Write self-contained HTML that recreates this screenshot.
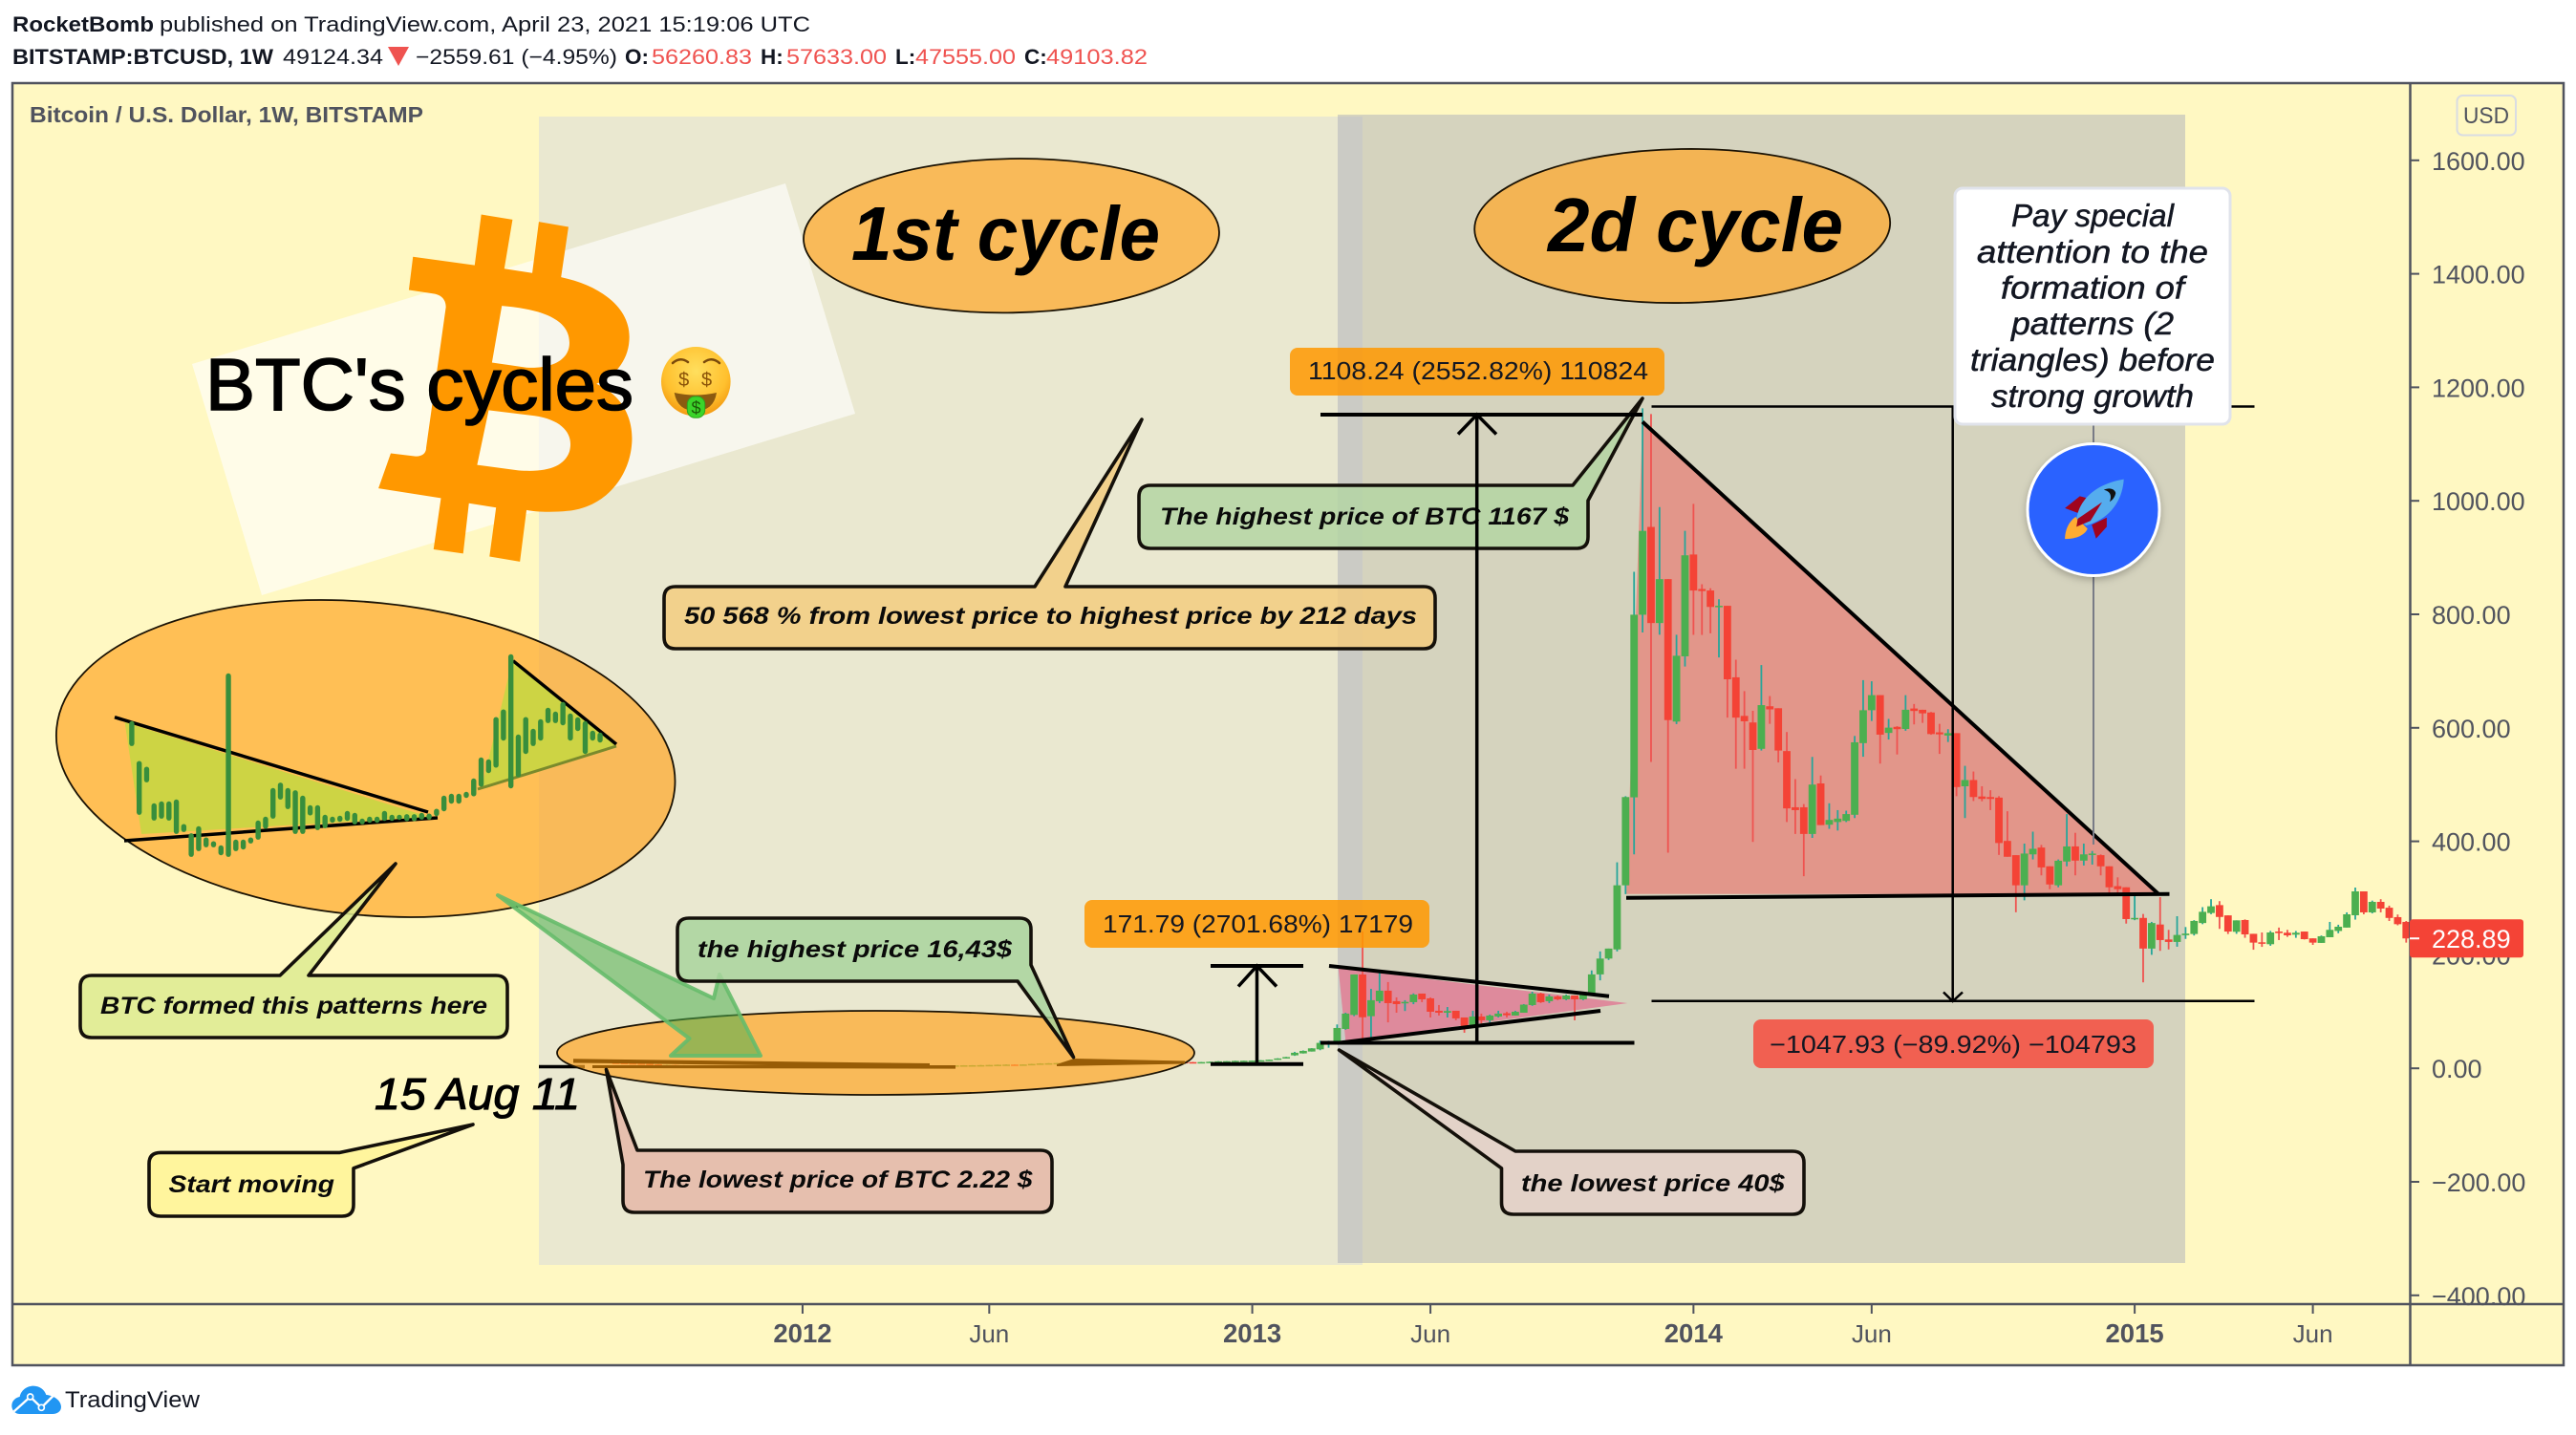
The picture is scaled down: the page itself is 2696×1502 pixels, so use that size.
<!DOCTYPE html>
<html lang="en">
<head>
<meta charset="utf-8">
<title>BTC's cycles</title>
<style>
html,body{margin:0;padding:0;background:#fff;width:2696px;height:1502px;overflow:hidden}
svg{display:block;font-family:"Liberation Sans",sans-serif}
.cb{font-weight:bold;font-style:italic;font-size:25px;fill:#0a0a0a}
.hd{font-size:22.5px;fill:#131722}
.red{fill:#EF5350}
.ml{font-size:26px;fill:#131722}
.pay{font-size:33px;font-style:italic;fill:#131722;stroke:#131722;stroke-width:.5px}
</style>
</head>
<body>
<svg id="chart" xmlns="http://www.w3.org/2000/svg" width="2696" height="1502" viewBox="0 0 2696 1502">
<defs>
<clipPath id="pane"><rect x="13" y="87" width="2509" height="1278"/></clipPath>
<filter id="sh" x="-20%" y="-20%" width="140%" height="140%"><feDropShadow dx="0" dy="3" stdDeviation="4" flood-color="#000" flood-opacity=".25"/></filter>
<radialGradient id="faceGrad" cx="50%" cy="35%" r="65%"><stop offset="0" stop-color="#FFDF5E"/><stop offset=".7" stop-color="#FFC02E"/><stop offset="1" stop-color="#F39A12"/></radialGradient>
</defs>

<g>
<text class="hd" x="13" y="33" font-weight="bold" textLength="148" lengthAdjust="spacingAndGlyphs">RocketBomb</text>
<text class="hd" x="167" y="33" textLength="681" lengthAdjust="spacingAndGlyphs">published on TradingView.com, April 23, 2021 15:19:06 UTC</text>
<text class="hd" x="13" y="67" font-weight="bold" textLength="273" lengthAdjust="spacingAndGlyphs">BITSTAMP:BTCUSD, 1W</text>
<text class="hd" x="296" y="67" textLength="105" lengthAdjust="spacingAndGlyphs">49124.34</text>
<polygon points="406,49 428,49 417,69" fill="#EF5350"/>
<text class="hd" x="435" y="67" textLength="211" lengthAdjust="spacingAndGlyphs">−2559.61 (−4.95%)</text>
<text class="hd" x="654" y="67" font-weight="bold">O:</text>
<text class="hd red" x="682" y="67" textLength="105" lengthAdjust="spacingAndGlyphs">56260.83</text>
<text class="hd" x="796" y="67" font-weight="bold">H:</text>
<text class="hd red" x="823" y="67" textLength="105" lengthAdjust="spacingAndGlyphs">57633.00</text>
<text class="hd" x="937" y="67" font-weight="bold">L:</text>
<text class="hd red" x="958" y="67" textLength="105" lengthAdjust="spacingAndGlyphs">47555.00</text>
<text class="hd" x="1072" y="67" font-weight="bold">C:</text>
<text class="hd red" x="1095" y="67" textLength="106" lengthAdjust="spacingAndGlyphs">49103.82</text>
</g>

<rect x="13" y="87" width="2670" height="1342" fill="#FFF8C2"/>

<g clip-path="url(#pane)">
<rect x="564" y="122" width="862" height="1202" fill="#EAE8D0"/>
<rect x="1400" y="120" width="887" height="1202" fill="#AFB1BA" fill-opacity=".524"/>

<polygon points="822,192 895,433 274,623 201,381" fill="#fff" fill-opacity=".62"/>
<path transform="scale(.861,.4464)" fill="#FF9800" fill-rule="evenodd" d="M502,602 L577,622 L585,503 L623,515 L613,630 L647,640 L655,520 L691,532 L682,650 C730,670 765,720 765,790 C765,840 750,880 725,900 C760,930 770,990 768,1040 C765,1120 735,1190 690,1198 C670,1202 650,1200 640,1196 L632,1317 L595,1305 L603,1190 L570,1180 L563,1298 L527,1288 L536,1168 L460,1145 L475,1063 L505,1070 C515,1070 518,1060 518,1050 L542,720 C542,700 535,690 525,688 L497,680 Z M610,717 C660,725 695,750 692,810 C690,845 670,865 640,862 L598,850 Z M594,962 L650,975 C685,985 698,1020 692,1060 C685,1095 665,1108 630,1103 L580,1090 Z"/>
<text x="215" y="429" font-size="77" fill="#000" stroke="#000" stroke-width="1.6" textLength="448" lengthAdjust="spacingAndGlyphs">BTC's cycles</text>

<g>
<circle cx="728.3" cy="399.3" r="36.3" fill="url(#faceGrad)"/>
<path d="M704,380 q8,-7 16,-1 M737,379 q8,-6 16,1" fill="none" stroke="#7a4a0c" stroke-width="2.5" stroke-linecap="round"/>
<text x="715.7" y="404" font-size="20" text-anchor="middle" fill="#8a5208">$</text>
<text x="739.5" y="404" font-size="20" text-anchor="middle" fill="#8a5208">$</text>
<path d="M705.7,411 q22,5 44.3,0 q-3,19 -22,19 q-19,0 -22.3,-19z" fill="#8B5A10"/>
<rect x="719.3" y="415" width="18.4" height="22.3" rx="8" fill="#3BD42A" stroke="#2FA51E" stroke-width="1"/>
<text x="728.5" y="433" font-size="18" text-anchor="middle" fill="#1c5a08">$</text>
</g>

<text x="31" y="128" font-size="23" font-weight="bold" fill="#50535E" textLength="412" lengthAdjust="spacingAndGlyphs">Bitcoin / U.S. Dollar, 1W, BITSTAMP</text>

<ellipse cx="1058.5" cy="246.7" rx="217.5" ry="80.6" transform="rotate(-1 1058.5 246.7)" fill="#FFA726" fill-opacity=".7" stroke="#1a1204" stroke-width="1.8"/>
<text x="891" y="272" font-size="80" font-weight="bold" font-style="italic" fill="#000" textLength="323" lengthAdjust="spacingAndGlyphs">1st cycle</text>
<ellipse cx="1760.7" cy="236.5" rx="217.5" ry="80.5" transform="rotate(-1 1760.7 236.5)" fill="#FFA726" fill-opacity=".7" stroke="#1a1204" stroke-width="1.8"/>
<text x="1620" y="263" font-size="80" font-weight="bold" font-style="italic" fill="#000" textLength="309" lengthAdjust="spacingAndGlyphs">2d cycle</text>

<polygon points="1719,441.5 2259,935.7 1702,935.7" fill="#E2968A"/>
<polygon points="1400.7,1013.3 1703.3,1050 1408.3,1090" fill="#DE8A9C"/>

<ellipse cx="382.7" cy="794" rx="325" ry="163.6" transform="rotate(5.7 382.7 794)" fill="#FFA726" fill-opacity=".7" stroke="#1a1204" stroke-width="1.8"/>
<polygon points="130.6,756 449,855 148,873" fill="#CDD444"/>
<polygon points="536,692 645,780 504,825" fill="#CDD444"/>
<line x1="120" y1="750.7" x2="448" y2="850" stroke="#000" stroke-width="3.5"/>
<line x1="130" y1="880" x2="458" y2="856" stroke="#000" stroke-width="3.5"/>
<line x1="537" y1="691.7" x2="645" y2="779" stroke="#000" stroke-width="3.5"/>
<line x1="500" y1="826" x2="645" y2="781" stroke="#7A8A2C" stroke-width="3"/>
<g id="inset-candles"></g>

<g id="candles"></g>

<line x1="564" y1="1116.5" x2="612" y2="1116.5" stroke="#000" stroke-width="3.5"/>
<ellipse cx="916.5" cy="1102" rx="333.5" ry="44" fill="#FFA726" fill-opacity=".7" stroke="#1a1204" stroke-width="1.8"/>
<polygon points="600,1108.3 973,1113 973,1117 600,1112.5" fill="#975C06"/>
<polygon points="620,1115 1000,1115 1000,1118.6 620,1118" fill="#975C06"/>
<polygon points="1106,1114 1124,1108 1240,1110.5 1240,1113.5 1106,1116" fill="#975C06"/>
<polygon points="521,937 747,1045 753,1020 796,1105 702,1105 721.5,1087" fill="#4CAF50" fill-opacity=".55" stroke="#66BB6A" stroke-opacity=".9" stroke-width="4" stroke-linejoin="round"/>

<g stroke="#000" fill="none">
<line x1="1719" y1="441.5" x2="2259" y2="935.7" stroke-width="4"/>
<line x1="1702" y1="939.8" x2="2270.5" y2="935.7" stroke-width="4"/>
<line x1="1391" y1="1011" x2="1684" y2="1042.7" stroke-width="4"/>
<line x1="1400" y1="1091.7" x2="1675" y2="1058" stroke-width="4"/>
</g>

<g stroke="#14100a" stroke-width="3.6" stroke-linejoin="round">
<path d="M707,614 L1083,614 L1195,439 L1115,614 L1490,614 Q1502,614 1502,626 L1502,667 Q1502,679 1490,679 L707,679 Q695,679 695,667 L695,626 Q695,614 707,614Z" fill="#F4CA7B" fill-opacity=".8"/>
<path d="M1204,508 L1646,508 L1719,417 L1662,524 L1662,562 Q1662,574 1650,574 L1204,574 Q1192,574 1192,562 L1192,520 Q1192,508 1204,508Z" fill="#B4D5A3" fill-opacity=".85"/>
<path d="M96,1021 L293,1021 L414,904 L323,1021 L519,1021 Q531,1021 531,1033 L531,1074 Q531,1086 519,1086 L96,1086 Q84,1086 84,1074 L84,1033 Q84,1021 96,1021Z" fill="#DDEB91" fill-opacity=".85"/>
<path d="M721,961 L1067,961 Q1079,961 1079,973 L1079,1010 L1123.5,1106.6 L1065,1027 L721,1027 Q709,1027 709,1015 L709,973 Q709,961 721,961Z" fill="#A9D39E" fill-opacity=".85"/>
<path d="M168,1206.4 L355.6,1206.4 L495,1177 L370,1222.8 L370,1261 Q370,1273 358,1273 L168,1273 Q156,1273 156,1261 L156,1218 Q156,1206.4 168,1206.4Z" fill="#FFF59D"/>
<path d="M667,1204 L1089,1204 Q1101,1204 1101,1216 L1101,1257 Q1101,1269 1089,1269 L664,1269 Q652,1269 652,1257 L652,1219 L634.5,1119.4Z" fill="#E6BFAE"/>
<path d="M1586,1205 L1876,1205 Q1888,1205 1888,1217 L1888,1259 Q1888,1271 1876,1271 L1584,1271 Q1571.5,1271 1571.5,1259 L1571.5,1222.8 L1401.5,1099Z" fill="#E3D2C8"/>
</g>
<text class="cb" x="716" y="653" textLength="767" lengthAdjust="spacingAndGlyphs">50 568 % from lowest price to highest price by 212 days</text>
<text class="cb" x="1214" y="549" textLength="428" lengthAdjust="spacingAndGlyphs">The highest price of BTC 1167 $</text>
<text class="cb" x="105" y="1061" textLength="405" lengthAdjust="spacingAndGlyphs">BTC formed this patterns here</text>
<text class="cb" x="730" y="1002" textLength="329" lengthAdjust="spacingAndGlyphs">the highest price 16,43$</text>
<text class="cb" x="176.5" y="1248" textLength="173.5" lengthAdjust="spacingAndGlyphs">Start moving</text>
<text class="cb" x="673" y="1243" textLength="407.5" lengthAdjust="spacingAndGlyphs">The lowest price of BTC 2.22 $</text>
<text class="cb" x="1592" y="1247" textLength="275.6" lengthAdjust="spacingAndGlyphs">the lowest price 40$</text>
<text x="392" y="1161" font-size="46" font-style="italic" fill="#000" stroke="#000" stroke-width="1.1" textLength="215" lengthAdjust="spacingAndGlyphs">15 Aug 11</text>

<g stroke="#000" fill="none">
<line x1="1267" y1="1011" x2="1364" y2="1011" stroke-width="4"/>
<line x1="1267" y1="1113.8" x2="1364" y2="1113.8" stroke-width="4"/>
<line x1="1315.5" y1="1011" x2="1315.5" y2="1113.8" stroke-width="3.5"/>
<polyline points="1296,1032.5 1315.5,1011 1336,1032.5" stroke-width="3.5"/>
<line x1="1382" y1="434" x2="1719" y2="434" stroke-width="4"/>
<line x1="1382" y1="1091.5" x2="1710.5" y2="1091.5" stroke-width="4"/>
<line x1="1545.7" y1="434" x2="1545.7" y2="1091.5" stroke-width="3.5"/>
<polyline points="1526,454.5 1545.7,434 1566,454.5" stroke-width="3.5"/>
<line x1="1728.5" y1="425.5" x2="2359.5" y2="425.5" stroke-width="2.5"/>
<line x1="1728.5" y1="1047.8" x2="2359.5" y2="1047.8" stroke-width="2.5"/>
<line x1="2043.7" y1="425.5" x2="2043.7" y2="1047.8" stroke-width="2.5"/>
<polyline points="2034,1038.5 2043.7,1048 2054,1038.5" stroke-width="2.5"/>
</g>

<rect x="1350" y="364" width="392" height="50" rx="8" fill="#FF9800" fill-opacity=".85"/>
<text class="ml" x="1369" y="397" textLength="356" lengthAdjust="spacingAndGlyphs">1108.24 (2552.82%) 110824</text>
<rect x="1135" y="942" width="361" height="50" rx="8" fill="#FF9800" fill-opacity=".85"/>
<text class="ml" x="1154" y="976" textLength="325" lengthAdjust="spacingAndGlyphs">171.79 (2701.68%) 17179</text>
<rect x="1835" y="1067" width="419" height="51" rx="8" fill="#F16051"/>
<text class="ml" x="1852" y="1102" textLength="384" lengthAdjust="spacingAndGlyphs">−1047.93 (−89.92%) −104793</text>

<line x1="2191" y1="445" x2="2191" y2="884" stroke="#787B86" stroke-width="2"/>
<circle cx="2191" cy="533.5" r="69" fill="#2962FF" stroke="#fff" stroke-width="3" filter="url(#sh)"/>
<g transform="translate(1650,400) scale(.4464,.4146)">
<path d="M1180,288 L1145,318 L1175,330 L1195,292Z" fill="#A0041E"/>
<path d="M1208,360 L1218,395 L1243,365 L1243,342Z" fill="#A0041E"/>
<path d="M1170,340 C1150,355 1145,380 1145,396 C1165,396 1190,390 1198,370Z" fill="#FFAC33"/>
<path d="M1283,245 C1225,255 1180,290 1172,345 L1195,362 C1250,345 1280,300 1283,245Z" fill="#55ACEE"/>
<path d="M1232,303 L1175,345 L1172,365 L1205,350Z" fill="#A0041E"/>
<path d="M1236,272 C1250,265 1262,270 1264,280 C1262,290 1258,296 1250,302 C1256,285 1250,275 1236,272Z" fill="#111"/>
</g>

<rect x="2046" y="197" width="288" height="247" rx="8" fill="#fff" stroke="#E0E3EB" stroke-width="3"/>
<g text-anchor="middle">
<text class="pay" x="2190" y="237" textLength="170" lengthAdjust="spacingAndGlyphs">Pay special</text>
<text class="pay" x="2190" y="275" textLength="242" lengthAdjust="spacingAndGlyphs">attention to the</text>
<text class="pay" x="2190" y="312.5" textLength="192" lengthAdjust="spacingAndGlyphs">formation of</text>
<text class="pay" x="2190" y="350" textLength="170" lengthAdjust="spacingAndGlyphs">patterns (2</text>
<text class="pay" x="2190" y="388" textLength="256" lengthAdjust="spacingAndGlyphs">triangles) before</text>
<text class="pay" x="2190" y="426" textLength="212" lengthAdjust="spacingAndGlyphs">strong growth</text>
</g>
</g>

<g id="time-axis">
<line x1="13" y1="1365" x2="2683" y2="1365" stroke="#50535E" stroke-width="2.5"/>
</g>
<g id="price-axis">
<line x1="2522.5" y1="87" x2="2522.5" y2="1429" stroke="#50535E" stroke-width="2.5"/>
<rect x="2571.5" y="100" width="61.5" height="41.5" rx="6" fill="#FFF8C2" stroke="#D9DCE3" stroke-width="2"/>
<text x="2578" y="129" font-size="24" fill="#50535E" textLength="48" lengthAdjust="spacingAndGlyphs">USD</text>
</g>
<rect x="13" y="87" width="2670" height="1342" fill="none" stroke="#50535E" stroke-width="2.5"/>

<g id="last-price-tag"></g>

<g>
<g transform="translate(0,1440) scale(.3333)">
<path d="M62,120 C45,120 36,105 37,92 C38,78 50,68 62,66 C66,45 85,32 105,32 C125,32 140,45 145,60 C170,62 192,78 192,98 C192,112 180,120 165,120 Z" fill="#2196F3"/>
<polyline points="44,112 95,66 130,100 170,60" fill="none" stroke="#fff" stroke-width="7"/>
<circle cx="95" cy="66" r="9" fill="#2196F3" stroke="#fff" stroke-width="5"/>
<circle cx="130" cy="100" r="9" fill="#2196F3" stroke="#fff" stroke-width="5"/>
</g>
<text x="68" y="1473" font-size="24" fill="#131722" textLength="141" lengthAdjust="spacingAndGlyphs">TradingView</text>
</g>
</svg>

<script>
const firstWeek = -80;
const opens = [10,9.5,9,8.5,8,7,5.5,5.8,5.2,5,4.9,4.8,3.5,3.2,3,3.1,2.9,2.8,3.1,3.2,3.9,4.2,4.7,5.2,6.3,6.8,6.4,6,5.8,5.4,4.9,5,5.2,4.9,5,4.9,4.8,5,5.1,5.2,5.1,5.2,5.3,5.4,5.6,5.9,6.3,6.6,6.5,6.8,7.7,8.6,8.9,9.3,10.8,11.6,10.9,12.2,10.1,10.6,10.9,11.2,12.3,12.7,12.4,12.1,11.7,11.1,10.9,10.4,11,11.6,12.4,12.6,13.2,13.4,13.6,14.2,15.2,17.4,
22.9,26.3,29.6,33.5,43.1,46.4,69.4,94.1,165.4,91.9,118.3,136.8,118.3,116,116.6,131.7,123.3,101.4,98,101.4,89.6,76,91.3,84.6,91.3,97,93,98,111.5,131.7,118.3,126.7,121.6,128.4,121.6,
131,165.5,193.4,209.5,322.5,477.5,799.3,954,784.6,862,611,726,905.4,844.6,842,813,815,689,621,609.4,563,638,634.5,559,460,460,413,502,429.3,434,436,446.8,573,631,657.6,591,601.7,598,634,631.8,627,592,586.4,590.6,497,508,479,478,477,400.7,375.6,322.5,377,389,356,322.5,364.4,391,366,376,375.6,356,321,319,263,265,211,253.4,227,222.7,234.6,236.7,256,273.7,287.6,269.5,
240.6,261.3,237,222,218.7,241,238.9,235.5,241,229,221,231,242,248,269.7,311.8,274.8,293.3,283,266.4,258];
const highs = [11,10,9.5,9,8.5,7.5,6.2,6,5.6,5.3,5.2,5,3.9,3.5,3.4,3.4,3.2,3.3,3.4,4.2,4.5,5,5.5,6.6,7.2,7,6.6,6.2,6,5.6,5.3,5.5,5.4,5.3,5.2,5.1,5.2,5.4,5.4,5.4,5.4,5.5,5.6,5.9,6.2,6.6,6.9,6.9,7,8,8.9,9.2,9.6,11.2,12,12,12.6,13,11,11.2,11.5,12.6,13,13,12.8,12.4,12,11.4,11.2,11.3,11.9,12.7,12.9,13.5,13.7,13.9,14.5,15.5,17.8,20.2,
29,31.5,35.5,48.7,48.7,77.3,98,165.4,241,140,170,152,125,120,132,131.7,125,111.5,108,101.4,89.6,101.4,96.4,94.7,101.4,99.7,101.4,113.2,135,133.4,130,128.4,130,128.4,133.4,
172.5,206,211,363,479.6,875,1163,1153,989,862,764,947,994.7,853,846,826.5,815,720,664.6,630,710.6,656,634.5,592.6,509.6,465.6,548.7,516,467,455,454,585.7,684,682,657.6,615.7,603,657.6,642,631.8,628,607,597.6,590.6,533,523,497,490,479.6,453,375.6,396,417,393.7,356,368,448,415,396,383,377,356,336.5,319,305,272,258,301.6,244,268,249,261,284,298,294.6,269.5,
260.7,262.4,237,239.4,242,248,244,242,241,229,234,258,253,274.8,318.5,311.8,295.5,298,286.6,271,259.6];
const lows = [9.2,8.7,8.2,7.5,6.8,5.2,5.2,5,4.8,4.7,4.6,3.3,3,2.8,2.9,2.7,2.6,2.7,3,3.1,3.8,4.1,4.6,5.1,6.1,6.1,5.8,5.6,5.2,4.7,4.7,4.9,4.7,4.8,4.7,4.6,4.7,4.9,5,5,5,5.1,5.2,5.3,5.5,5.8,6.2,6.3,6.4,6.7,7.5,8.4,8.7,9.1,10.6,10.6,10.7,9.8,9.9,10.4,10.7,11.1,12.1,12.1,11.9,11.5,10.9,10.7,10.2,10.2,10.9,11.5,12.3,12.5,13.1,13.3,13.5,14,15,17.2,
22,26,29.5,31.9,36.3,46,68,92,52,54,115,81,98,101,113,116.6,89.6,93,89.6,84.6,62.7,76,79,81,89.6,89.6,93,98,110,115,115,120,120,84.6,120,
130,155,191,206,307,377,768,540,764,380,606.6,708,763.7,763.7,766.5,724,618,528,528,399,560,607,539,434,413,338.6,406,428.6,422,419,434,441,549,612,537,579.4,553,594.8,606,608.7,587.8,554,575,479.6,441,471,470.5,455,376,372.8,275,296,368,340,315.6,319,356,340,357.4,359,340,307,307,255,261,151.5,200,207,209.5,214.3,228,234,254,271.6,245.7,236.7,
237,230,209,214,216,226,231.6,230,227,217.5,221,231,238,248,262,271.4,273,274.8,259.6,252,221.5];
const closes = [9.5,9,8.5,8,7,5.5,5.8,5.2,5,4.9,4.8,3.5,3.2,3,3.1,2.9,2.8,3.1,3.2,3.9,4.2,4.7,5.2,6.3,6.8,6.4,6,5.8,5.4,4.9,5,5.2,4.9,5,4.9,4.8,5,5.1,5.2,5.1,5.2,5.3,5.4,5.6,5.9,6.3,6.6,6.5,6.8,7.7,8.6,8.9,9.3,10.8,11.6,10.9,12.2,10.1,10.6,10.9,11.2,12.3,12.7,12.4,12.1,11.7,11.1,10.9,10.4,11,11.6,12.4,12.6,13.2,13.4,13.6,14.2,15.2,17.4,19.8,
27.4,30.7,35.2,44.8,44.2,71.1,96.4,165.4,90,120,136.8,114.9,113.2,117,130,121.6,99.7,98,101,88,74.5,91.3,84.6,93,96.4,93.5,99.7,112.2,131.7,116.6,126.7,121.6,128.4,121.6,133.4,
165.5,193.4,211,322.5,478,799.3,947,784.6,862,613.6,727,904,842,841,813,815,685.5,618,611.5,561,640,632.5,560,458,455,413,500,428.6,437.7,440,448,574.5,631,657.6,588,600.3,597.6,631.8,629.7,625.5,589,588.5,590.6,495.6,508,478,474.7,474.7,397,372.8,322.5,378.4,386.8,354,324,365.8,391,366,377,378.4,356,319,315.6,263,265,211,256,226,222.7,235,237.4,259.7,275.8,285.5,266.7,241,
260.7,236,221.5,220,239.4,238.3,234.4,238.9,227.6,221.5,232.7,244,249.5,271.4,311.8,274.8,293.3,281.5,265,254,228.89];

const priceTicks = [1600,1400,1200,1000,800,600,400,200,0,-200,-400];
const timeTickLabels = ["2012","Jun","2013","Jun","2014","Jun","2015","Jun"];
const timeTickWeeks = [-58,-36,-5,16,47,68,99,120];
const timeTickMajor = [true,false,true,false,true,false,true,false];
const lastPrice = 228.89;

const insetHighs = [435,310,292,177,183,183,189,112,83,105,70,58,45,585,63,63,70,123,135,225,242,225,218,201,171,171,141,135,135,153,147,129,135,135,153,141,141,137,137,142,142,160,201,207,207,213,255,321,315,448,472,645,393,448,411,441,477,465,495,459,447,435,405,399];
const insetLows = [358,142,244,124,130,124,82,88,10,28,40,40,15,10,28,33,52,64,98,130,190,160,82,82,140,94,100,117,123,123,112,112,117,117,123,123,126,128,128,132,130,138,153,177,177,195,200,230,273,290,375,225,260,333,358,375,430,430,423,375,405,333,375,369];

const NS = 'http://www.w3.org/2000/svg';
function priceY(p){ return 1118.2 - 0.594 * p; }
function weekX(w){ return 1355 + 8.88 * w; }
function insetX(i){ return 137.9 + 7.78 * i; }
function insetY(v){ return 660 + (720 - v) / 3; }
function make(tag, parent, attrs){
  const el = document.createElementNS(NS, tag);
  for (const k in attrs) el.setAttribute(k, attrs[k]);
  parent.appendChild(el);
  return el;
}

const candleLayer = document.getElementById('candles');
closes.forEach(function(close, k){
  const open = opens[k];
  const up = close >= open;
  const x = weekX(firstWeek + k);
  const wick = make('line', candleLayer, {x1:x, x2:x, y1:priceY(highs[k]), y2:priceY(lows[k]), stroke: up ? '#26A69A' : '#EF5350', 'stroke-width':1.8});
  
  
  const top = priceY(Math.max(open, close));
  const bottom = priceY(Math.min(open, close));
  const body = make('rect', candleLayer, {x:x - 3.9, y:top, width:7.8, height:Math.max(bottom - top, 1.5), fill: up ? '#4CAF50' : '#F44336'});
  
  
});

const insetLayer = document.getElementById('inset-candles');
insetHighs.forEach(function(high, i){
  const x = insetX(i);
  const bar = make('line', insetLayer, {x1:x, x2:x, y1:insetY(high) + 2.5, y2:insetY(insetLows[i]) - 2.5, stroke:'#388E3C', 'stroke-width':5.4, 'stroke-linecap':'round'});
  
  
});

const priceAxis = document.getElementById('price-axis');
priceTicks.forEach(function(p){
  const y = priceY(p);
  const tick = make('line', priceAxis, {x1:2522, x2:2532, y1:y, y2:y, stroke:'#50535E', 'stroke-width':2});
  
  
  const label = make('text', priceAxis, {x:2545, y:y + 10, 'font-size':27, fill:'#50535E'});
  
  
  label.textContent = (p < 0 ? '−' : '') + Math.abs(p).toFixed(2);
});

const timeAxis = document.getElementById('time-axis');
timeTickLabels.forEach(function(text, i){
  const x = weekX(timeTickWeeks[i]);
  const tick = make('line', timeAxis, {x1:x, x2:x, y1:1365, y2:1375, stroke:'#50535E', 'stroke-width':2});
  
  
  const label = make('text', timeAxis, {x:x, y:1405, 'font-size':timeTickMajor[i] ? 27.5 : 26, 'font-weight':timeTickMajor[i] ? 'bold' : 'normal', fill:'#50535E', 'text-anchor':'middle'});
  
  
  label.textContent = text;
});

const tagLayer = document.getElementById('last-price-tag');
const tagY = priceY(lastPrice);
const tagBox = make('rect', tagLayer, {x:2522, y:tagY - 20, width:119, height:40, rx:3, fill:'#F44336'});


const tagTick = make('line', tagLayer, {x1:2522, x2:2532, y1:tagY, y2:tagY, stroke:'#fff', 'stroke-width':2});


const tagText = make('text', tagLayer, {x:2545, y:tagY + 10, 'font-size':27, fill:'#fff'});


tagText.textContent = lastPrice.toFixed(2);
</script>
</body>
</html>
